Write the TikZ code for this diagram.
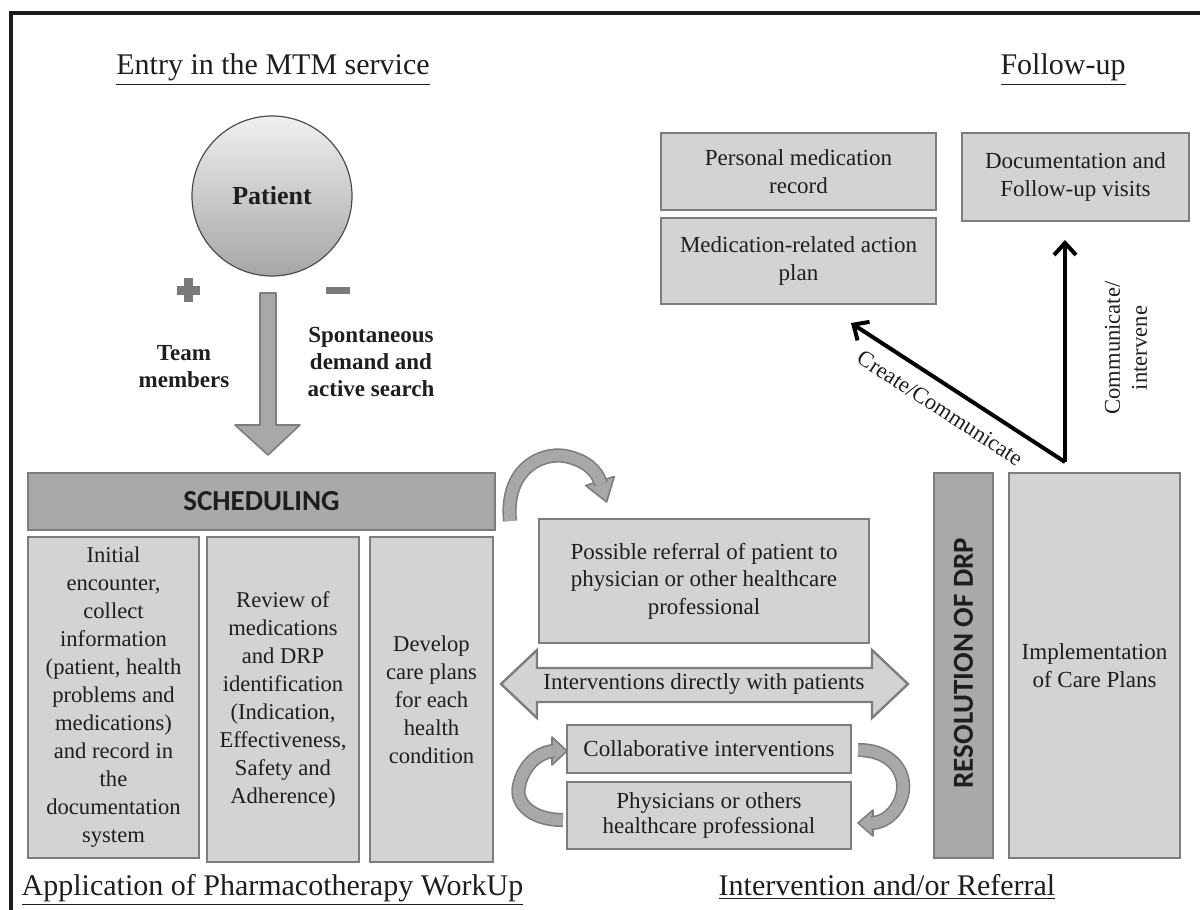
\documentclass[tikz,border=0pt]{standalone}
\usepackage{fontspec}
\setmainfont{Liberation Serif}
\newfontfamily\calib{Carlito}
\usetikzlibrary{arrows.meta}
\definecolor{boxfill}{HTML}{D3D3D3}
\definecolor{boxline}{HTML}{7D7D7D}
\definecolor{darkfill}{HTML}{A9A9A9}
\definecolor{arrowfill}{HTML}{A8A8A8}
\definecolor{txt}{HTML}{1E1E1E}
\definecolor{frameclr}{HTML}{1A1A1A}
\begin{document}
\begin{tikzpicture}[x=0.5pt,y=-0.5pt,
  every node/.style={text=txt},
  box/.style={draw=boxline, line width=1.2pt, fill=boxfill, align=center, inner sep=0pt,
              font=\fontsize{11.5}{14}\selectfont},
  darkbox/.style={box, fill=darkfill, font=\calib\bfseries\fontsize{14.5}{17}\selectfont},
  title/.style={font=\fontsize{15}{18}\selectfont, anchor=base},
  blabel/.style={font=\bfseries\fontsize{11.5}{13.5}\selectfont, align=center},
  plainlabel/.style={font=\fontsize{11.3}{13.5}\selectfont, align=center},
  blockarrow/.style={draw=boxline, fill=arrowfill, line width=0.8pt, line join=round},
  band/.style={draw=boxline, line width=0.8pt, double=arrowfill, double distance=5.5pt},
  connector/.style={draw=black, line width=2pt, -{Straight Barb[length=6pt,width=11pt]}}
]
\useasboundingbox (0,0) rectangle (1200,910);

% frame
\draw[line width=2pt, frameclr] (10.5,912) -- (10.5,12.5) -- (1202,12.5);

% titles
\node[title] (t1) at (273,75) {\underline{Entry in the MTM service}};
\node[title] (t2) at (1063,75) {\underline{Follow-up}};
\node[title] (t3) at (272.5,895) {\underline{Application of Pharmacotherapy WorkUp}};
\node[title] (t4) at (887,895) {\underline{Intervention and/or Referral}};

% patient
\node[circle, minimum size=80pt, draw=black!70, line width=0.6pt,
      top color=black!6, bottom color=black!35,
      font=\bfseries\fontsize{13}{15}\selectfont] (patient) at (272,196) {Patient};

% plus and minus
\fill[black!52] (177,286) rectangle (200,295);
\fill[black!52] (184,278) rectangle (193,302);
\fill[black!52] (326,287) rectangle (350,294);

% big down arrow
\draw[blockarrow] (260,293) -- (276,293) -- (276,425) -- (300,425) -- (268,455)
   -- (235,425) -- (260,425) -- cycle;

\node[blabel] (team) at (184,367) {Team\\members};
\node[blabel] (spont) at (371,362) {Spontaneous\\demand and\\active search};

% scheduling and work-up boxes
\node[darkbox, minimum width=233.5pt, minimum height=28.5pt] (sched) at (261.5,501.5) {SCHEDULING};
\node[box, minimum width=85.5pt, minimum height=160.5pt, font=\fontsize{11.3}{14}\selectfont] (b1) at (113.5,697.5)
  {Initial\\encounter,\\collect\\information\\(patient, health\\problems and\\medications)\\and record in\\the\\documentation\\system};
\node[box, minimum width=76pt, minimum height=162.5pt, font=\fontsize{11.3}{14}\selectfont] (b2) at (283,699.5)
  {Review of\\medications\\and DRP\\identification\\(Indication,\\Effectiveness,\\Safety and\\Adherence)};
\node[box, minimum width=61.5pt, minimum height=162.5pt, font=\fontsize{11.3}{14}\selectfont] (b3) at (431.5,699.5)
  {Develop\\care plans\\for each\\health\\condition};

% intervention area
\node[box, minimum width=165pt, minimum height=62pt, font=\fontsize{11.5}{13.7}\selectfont] (ref) at (704,581)
  {Possible referral of patient to\\physician or other healthcare\\professional};

\draw[box] (501,684) -- (537,650) -- (537,668) -- (872,668) -- (872,650) -- (908,684)
   -- (872,718) -- (872,702) -- (537,702) -- (537,718) -- cycle;
\node[font=\fontsize{11.5}{14}\selectfont] (direct) at (704,684) {Interventions directly with patients};

\node[box, minimum width=142pt, minimum height=24pt] (collab) at (709,749) {Collaborative interventions};
\node[box, minimum width=142pt, minimum height=33.5pt, font=\fontsize{11.5}{12.5}\selectfont] (phys) at (709,815.5)
  {Physicians or others\\healthcare professional};

% curved arrows
\draw[blockarrow] (585.7,485.5) -- (606.6,502) -- (614.3,476.5) -- cycle;
\draw[band] (510,521) .. controls (505,470) and (540,452) .. (565,456)
   .. controls (585,460) and (597,470) .. (601,484);

\draw[blockarrow] (552,737) -- (567,751) -- (552,765) -- cycle;
\draw[band] (563,820) .. controls (530,820) and (515,802) .. (519,786)
   .. controls (523,766) and (538,752) .. (554,751);

\draw[blockarrow] (873,810) -- (858,823) -- (873,836) -- cycle;
\draw[band] (858,750) .. controls (890,750) and (905,770) .. (903,790)
   .. controls (901,808) and (887,823) .. (871,823);

% resolution
\node[darkbox, minimum width=29.5pt, minimum height=192.5pt] (res) at (963.5,665.5) {};
\node[rotate=90, font=\calib\bfseries\fontsize{14.5}{17}\selectfont] (restext) at (963.5,663) {RESOLUTION OF DRP};
\node[box, minimum width=85.5pt, minimum height=192.5pt] (impl) at (1094.5,665.5) {Implementation\\of Care Plans};

% follow-up boxes
\node[box, minimum width=137.5pt, minimum height=38.5pt] (pmr) at (798.5,171.5) {Personal medication\\record};
\node[box, minimum width=137.5pt, minimum height=43pt] (mrap) at (798.5,261) {Medication-related action\\plan};
\node[box, minimum width=113.5pt, minimum height=44pt] (doc) at (1075.5,177) {Documentation and\\Follow-up visits};

% connectors
\coordinate (apex) at (1065,462);
\coordinate (tipA) at (851,323);
\coordinate (tipB) at (1065,240);
\draw[connector] (apex) -- (tipA);
\draw[connector] (apex) -- (tipB);

\node[plainlabel, rotate=-33] (create) at (940,408) {Create/Communicate};
\node[plainlabel, rotate=90] (commint) at (1126,348) {Communicate/\\intervene};

\end{tikzpicture}
\end{document}
